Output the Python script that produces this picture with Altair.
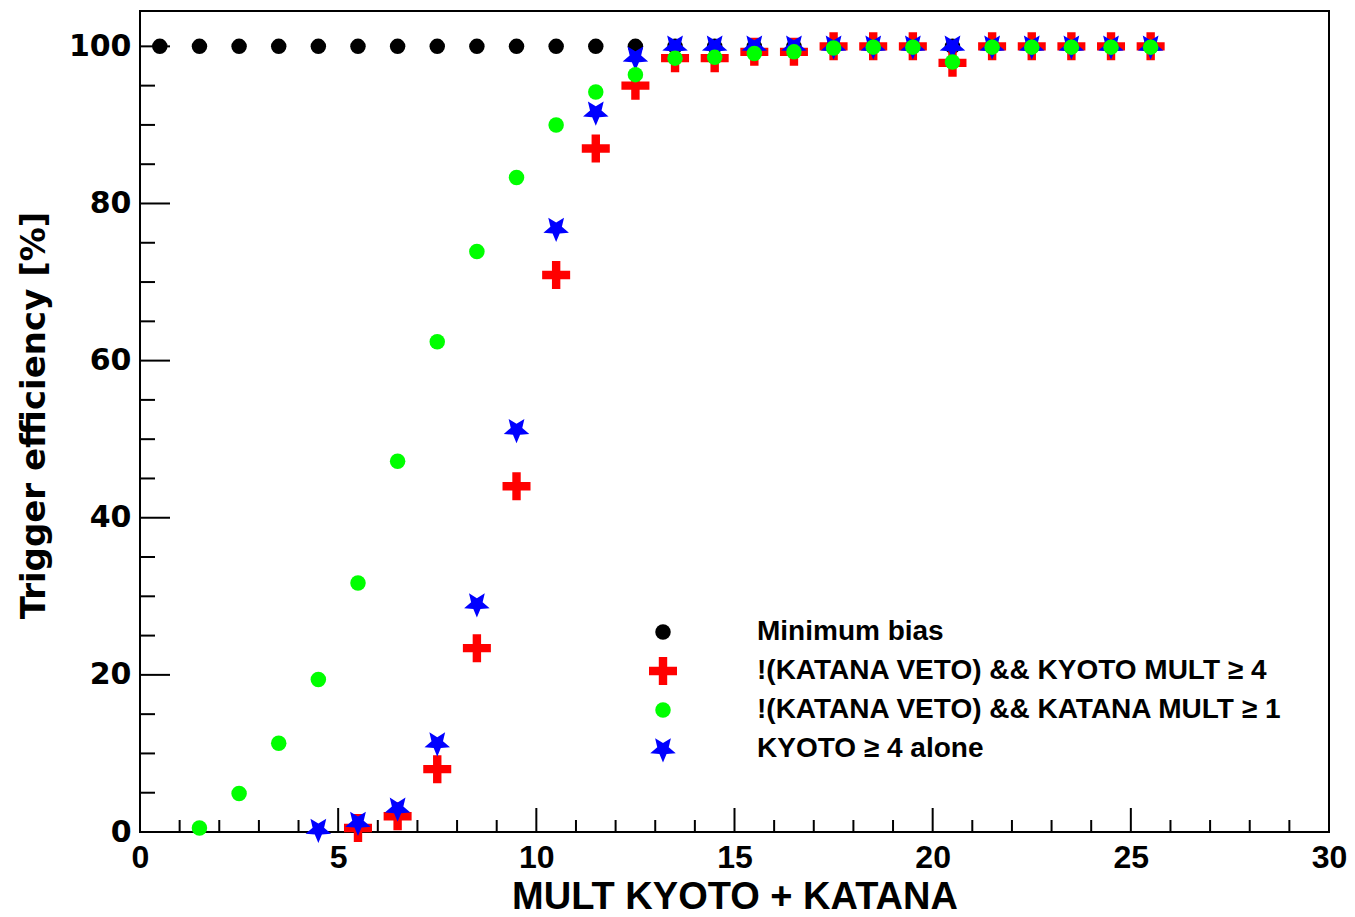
import altair as alt
import pandas as pd

# Bin centres of the combined KYOTO + KATANA multiplicity
mult_bins = [0.5, 1.5, 2.5, 3.5, 4.5, 5.5, 6.5, 7.5, 8.5, 9.5, 10.5, 11.5, 12.5,
             13.5, 14.5, 15.5, 16.5, 17.5, 18.5, 19.5, 20.5, 21.5, 22.5, 23.5, 24.5, 25.5]

# Minimum bias: fully efficient everywhere
min_bias_eff = [100, 100, 100, 100, 100, 100, 100, 100, 100, 100, 100, 100, 100,
                100, 100, 100, 100, 100, 100, 100, 100, 100, 100, 100, 100, 100]

# !(KATANA VETO) && KYOTO MULT >= 4
kyoto4_x = [5.5, 6.5, 7.5, 8.5, 9.5, 10.5, 11.5, 12.5, 13.5, 14.5, 15.5, 16.5,
            17.5, 18.5, 19.5, 20.5, 21.5, 22.5, 23.5, 24.5, 25.5]
kyoto4_eff = [0.5, 2.0, 8.0, 23.4, 44.0, 70.9, 87.0, 95.0, 98.5, 98.5, 99.3, 99.3,
              100, 100, 100, 97.9, 100, 100, 100, 100, 100]

# !(KATANA VETO) && KATANA MULT >= 1
katana1_x = [1.5, 2.5, 3.5, 4.5, 5.5, 6.5, 7.5, 8.5, 9.5, 10.5, 11.5, 12.5, 13.5,
             14.5, 15.5, 16.5, 17.5, 18.5, 19.5, 20.5, 21.5, 22.5, 23.5, 24.5, 25.5]
katana1_eff = [0.5, 4.9, 11.3, 19.4, 31.7, 47.2, 62.4, 73.9, 83.3, 90.0, 94.2, 96.4, 98.5,
               98.6, 99.1, 99.3, 99.8, 99.9, 99.9, 98.0, 99.9, 99.9, 99.9, 99.9, 99.9]

# KYOTO >= 4 alone
kyoto_alone_x = [4.5, 5.5, 6.5, 7.5, 8.5, 9.5, 10.5, 11.5, 12.5, 13.5, 14.5, 15.5,
                 16.5, 17.5, 18.5, 19.5, 20.5, 21.5, 22.5, 23.5, 24.5, 25.5]
kyoto_alone_eff = [0.3, 1.2, 3.0, 11.3, 29.0, 51.2, 76.8, 91.6, 98.6, 100, 100, 100,
                   100, 100, 100, 100, 100, 100, 100, 100, 100, 100]

series_names = ["Minimum bias",
                "!(KATANA VETO) && KYOTO MULT \u2265 4",
                "!(KATANA VETO) && KATANA MULT \u2265 1",
                "KYOTO \u2265 4 alone"]
series_colors = ["#000000", "#ff0000", "#00ff00", "#0000ff"]

# Tick positions (drawn inside the frame)
x_major = [0, 5, 10, 15, 20, 25, 30]
x_minor = [1, 2, 3, 4, 6, 7, 8, 9, 11, 12, 13, 14, 16, 17, 18, 19,
           21, 22, 23, 24, 26, 27, 28, 29]
y_major = [0, 20, 40, 60, 80, 100]
y_minor = [5, 10, 15, 25, 30, 35, 45, 50, 55, 65, 70, 75, 85, 90, 95]

# Marker outlines in the unit square
plus_path = ("M-1,-0.3L-0.3,-0.3L-0.3,-1L0.3,-1L0.3,-0.3L1,-0.3L1,0.3L0.3,0.3"
             "L0.3,1L-0.3,1L-0.3,0.3L-1,0.3Z")
star_path = ("M0,1L-0.265,0.364L-0.951,0.309L-0.428,-0.139L-0.588,-0.809L0,-0.45"
             "L0.588,-0.809L0.428,-0.139L0.951,0.309L0.265,0.364Z")
series_shapes = ["circle", plus_path, "circle", star_path]
series_sizes = [240, 784, 240, 720]

PLOT_W, PLOT_H = 1189, 821

# Drawing order: black, red, blue, then green on top
frames = [
    pd.DataFrame({"x": mult_bins, "y": min_bias_eff, "series": series_names[0]}),
    pd.DataFrame({"x": kyoto4_x, "y": kyoto4_eff, "series": series_names[1]}),
    pd.DataFrame({"x": kyoto_alone_x, "y": kyoto_alone_eff, "series": series_names[3]}),
    pd.DataFrame({"x": katana1_x, "y": katana1_eff, "series": series_names[2]}),
]
points_df = pd.concat(frames, ignore_index=True)

x_scale = alt.Scale(domain=[0, 30], nice=False, zero=False)
y_scale = alt.Scale(domain=[0, 104.5], nice=False, zero=False)

x_axis = alt.Axis(values=x_major, ticks=False, domain=False, grid=False,
                  labelFont="Liberation Sans", labelFontWeight="bold",
                  labelFontSize=32, labelColor="black", labelPadding=10,
                  labelFlush=False, title="MULT KYOTO + KATANA",
                  titleFont="Liberation Sans", titleFontWeight="bold",
                  titleFontSize=38, titleColor="black", titlePadding=5)
y_axis = alt.Axis(values=y_major, ticks=False, domain=False, grid=False,
                  labelFont="DejaVu Sans", labelFontWeight="bold",
                  labelFontSize=30, labelColor="black", labelPadding=9,
                  labelFlush=False, title="Trigger efficiency [%]",
                  titleFont="DejaVu Sans", titleFontWeight="bold",
                  titleFontSize=34, titleColor="black", titlePadding=17,
                  titleY=404)

legend = alt.Legend(
    orient="none", legendX=509, legendY=607, title=None,
    labelFont="Liberation Sans", labelFontWeight="bold", labelFontSize=28,
    labelColor="black", labelOffset=80, labelLimit=0, rowPadding=11,
    symbolStrokeWidth=0, symbolOpacity=1, padding=0,
)

points = alt.Chart(points_df).mark_point(filled=True, opacity=1, strokeWidth=0).encode(
    x=alt.X("x:Q", scale=x_scale, axis=x_axis),
    y=alt.Y("y:Q", scale=y_scale, axis=y_axis),
    color=alt.Color("series:N", scale=alt.Scale(domain=series_names, range=series_colors),
                    legend=legend),
    shape=alt.Shape("series:N", scale=alt.Scale(domain=series_names, range=series_shapes),
                    legend=legend),
    size=alt.Size("series:N",
                  scale=alt.Scale(type="ordinal", domain=series_names, range=series_sizes),
                  legend=legend),
)


def x_ticks(values, length):
    return alt.Chart(pd.DataFrame({"x": values})).mark_rule(
        color="black", strokeWidth=2).encode(
        x=alt.X("x:Q", scale=x_scale, axis=x_axis),
        y=alt.value(PLOT_H), y2=alt.value(PLOT_H - length))


def y_ticks(values, length):
    return alt.Chart(pd.DataFrame({"y": values})).mark_rule(
        color="black", strokeWidth=2).encode(
        y=alt.Y("y:Q", scale=y_scale, axis=y_axis),
        x=alt.value(0), x2=alt.value(length))


chart = alt.layer(
    x_ticks(x_major, 24), x_ticks(x_minor, 12),
    y_ticks(y_major, 30), y_ticks(y_minor, 15),
    points,
).properties(
    width=PLOT_W, height=PLOT_H,
    padding={"left": 140, "top": 11, "right": 26, "bottom": 85},
    autosize=alt.AutoSizeParams(type="none"),
    background="white",
).configure_view(stroke="black", strokeWidth=2)

chart.save("out.html", embed_options={"renderer": "svg", "actions": False})
